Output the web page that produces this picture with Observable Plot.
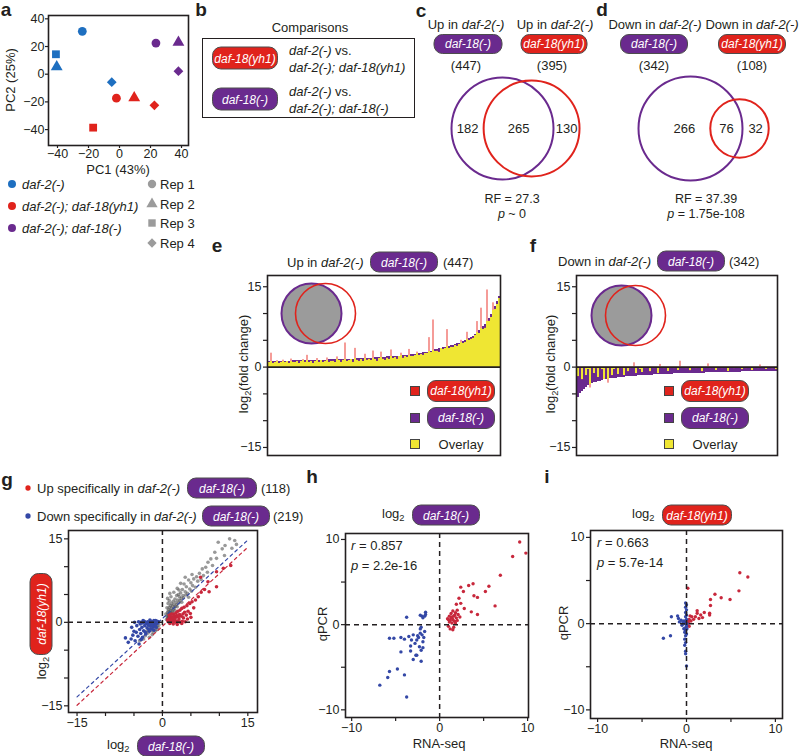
<!DOCTYPE html>
<html><head><meta charset="utf-8">
<script src="https://cdn.jsdelivr.net/npm/d3@7"></script>
<script src="https://cdn.jsdelivr.net/npm/@observablehq/plot@0.6"></script>
<style>
html,body{margin:0;padding:0;background:#fff;}
#fig{position:relative;width:800px;height:756px;overflow:hidden;font-family:"Liberation Sans",Arial,Helvetica,sans-serif;color:#231f20;}
.t{position:absolute;white-space:nowrap;line-height:1;}
.pill{position:absolute;box-sizing:border-box;border:1.6px solid #4d4d4d;border-radius:9px;color:#fff;font-style:italic;font-size:12px;display:flex;align-items:center;justify-content:center;white-space:nowrap;line-height:1;}
sub{font-size:0.72em;vertical-align:-0.35em;line-height:0;}
</style></head><body><div id="fig"></div>
<script>
// ================= DATA =================
// a: PCA
const pcaGroups = ["daf-2(-)", "daf-2(-); daf-18(yh1)", "daf-2(-); daf-18(-)"];
const pcaReps = ["Rep 1", "Rep 2", "Rep 3", "Rep 4"];
const pcaSampleGroup = [0, 0, 0, 0, 1, 1, 1, 1, 2, 2, 2];
const pcaSampleRep   = [0, 1, 2, 3, 0, 1, 2, 3, 0, 1, 3];
const pcaPC1 = [-24, -40.5, -41, -5, -2, 9.5, -17, 22.5, 23.5, 38, 38];
const pcaPC2 = [31, 5.3, 14.4, -5.8, -17.3, -17, -38.6, -22.5, 22.5, 23, 2.2];
const pcaTicks = [-40, -20, 0, 20, 40];

// b: comparisons
const compPills = ["daf-18(yh1)", "daf-18(-)"];
const compLines = [["daf-2(-)", "daf-2(-); daf-18(yh1)"], ["daf-2(-)", "daf-2(-); daf-18(-)"]];

// c, d: Venn diagrams
const vennSets = ["daf-18(-)", "daf-18(yh1)"];
const upTotals = [447, 395], upOverlap = 265, upOnly = [182, 130], upStats = ["RF = 27.3", "<i>p</i> ~ 0"];
const downTotals = [342, 108], downOverlap = 76, downOnly = [266, 32], downStats = ["RF = 37.39", "<i>p</i> = 1.75e-108"];

// e: up in daf-2(-) daf-18(-) (447), log2 fold change, sorted
const upPurple = [1.0,1.0,1.0,1.0,1.0,1.05,1.05,1.05,1.1,1.1,1.1,1.1,1.15,1.15,1.15,1.15,1.2,1.2,1.2,1.2,1.2,1.25,1.25,1.25,1.25,1.3,1.3,1.3,1.3,1.3,1.35,1.35,
 1.35,1.4,1.4,1.4,1.4,1.45,1.45,1.45,1.5,1.5,1.5,1.55,1.55,1.6,1.6,1.6,1.65,1.65,1.7,1.7,1.7,1.75,1.75,1.8,1.8,1.85,1.85,1.9,1.9,1.95,1.95,2.0,2.0,2.05,2.1,
 2.1,2.15,2.2,2.25,2.3,2.35,2.4,2.45,2.5,2.6,2.65,2.7,2.8,2.9,3.0,3.1,3.2,3.3,3.4,3.5,
 3.6,3.7,3.8,3.9,4.0,4.1,4.2,4.4,4.5,4.6,4.8,5.0,5.1,5.3,5.5,
 5.8,6.1,6.4,6.8,7.2,7.6,8.0,8.5,9.1,9.8,
 10.6,11.4,12.2,13.1];
const upRed = [0.8,2.6,0.7,0.9,1.2,0.6,0.9,1.3,0.8,1.0,0.7,1.5,0.9,0.8,1.1,0.6,1.0,1.4,0.9,2.2,0.8,1.1,0.7,1.0,1.6,0.9,1.2,0.8,1.1,1.7,0.9,1.0,
 1.1,0.8,1.9,1.2,0.9,1.3,4.5,1.0,1.2,1.4,0.9,3.5,1.3,1.1,1.4,1.0,2.4,1.3,1.5,1.2,3.0,1.4,1.1,1.6,2.8,1.5,1.3,1.7,1.4,3.2,1.6,1.8,1.5,1.9,2.6,
 1.7,2.0,1.8,3.3,2.0,1.9,2.2,2.8,2.1,2.4,2.2,2.5,2.6,5.5,2.7,8.8,2.9,3.0,2.8,3.4,
 3.2,3.5,7.0,3.4,3.7,3.6,4.0,3.9,4.2,5.0,4.4,4.6,6.5,4.9,5.2,
 5.4,5.9,8.5,6.2,11.0,7.0,7.3,14.4,8.6,9.2,
 12.0,10.8,11.6,12.8];

// f: down in daf-2(-) daf-18(-) (342)
const downPurple = [-5.6,-5.0,-4.5,-4.1,-3.8,
 -3.5,-3.3,-3.1,-2.95,-2.8,
 -2.7,-2.6,-2.5,-2.4,-2.35,-2.3,-2.2,-2.15,-2.1,-2.05,
 -2.0,-1.95,-1.9,-1.87,-1.84,-1.8,-1.77,-1.74,-1.71,-1.68,-1.65,-1.62,-1.6,-1.57,-1.55,
 -1.52,-1.5,-1.48,-1.46,-1.44,-1.42,-1.4,-1.38,-1.36,-1.34,-1.32,-1.3,-1.29,-1.28,-1.26,-1.25,-1.24,-1.22,-1.21,-1.2,
 -1.19,-1.18,-1.16,-1.15,-1.14,-1.13,-1.12,-1.11,-1.1,-1.09,-1.08,-1.07,-1.06,-1.05,-1.04,-1.03,-1.02,-1.01,-1.0,-0.99,-0.98,-0.97,-0.96,-0.95,-0.94,
 -0.93,-0.92,-0.91,-0.9,-0.89,-0.88,-0.87,-0.86,-0.85,-0.84,-0.83,-0.82,-0.81,-0.8,-0.79,-0.78,-0.77,-0.76,-0.75,-0.74];
const downRed = [-1.8,-0.3,-2.4,-0.2,-1.5,-0.4,-3.9,-0.2,-1.2,-0.3,
 -1.9,-0.2,-0.5,-2.3,-0.3,-3.0,-0.2,-1.6,-0.4,-0.2,
 -1.3,-0.2,-0.3,-1.5,-0.1,-0.9,-0.3,-0.2,0.8,-1.2,-0.2,-0.4,-1.0,-0.1,-0.3,
 -0.2,-0.9,-0.1,-0.3,-0.2,-1.1,0.5,-0.2,-0.3,-0.1,-0.8,-0.2,-0.1,-0.3,-0.2,-0.6,1.1,-0.1,-0.2,-0.3,
 -0.1,-0.7,-0.2,-0.1,-0.3,-0.2,-0.1,-0.9,-0.2,-0.1,0.6,-0.3,-0.2,-0.1,-0.6,-0.2,-0.1,-0.3,-0.2,-0.1,-0.8,-0.2,-0.1,-0.3,-0.2,
 -0.1,-0.2,-0.5,-0.1,-0.3,-0.2,-0.1,-0.6,-0.2,-0.1,-0.3,0.4,-0.2,-0.1,-0.4,-0.2,-0.1,-0.3,-0.2,-0.5];
const barTicks = [-15, -10, -5, 0, 5, 10, 15], barTickLabels = [-15, 0, 15];
const barLegend = ["daf-18(yh1)", "daf-18(-)", "Overlay"];

// g: log2 daf-18(-) (x) vs log2 daf-18(yh1) (y)
const gOther = [[9.8,14.4],[11.8,15.0],[12.7,14.7],[10.5,13.2],[9.2,12.6],[8.5,11.4],[8.0,10.8],[9.5,11.5],[10.9,12.0],[7.6,9.9],[8.8,10.2],[7.0,9.6],[6.5,8.8],[7.2,8.4],[6.0,8.2],[5.5,7.8],[6.2,7.4],[5.0,7.1],[4.6,7.6],[5.3,6.6],[4.2,6.4],[3.8,6.9],[4.8,6.0],[3.5,5.9],[4.0,5.5],[3.2,5.3],[2.8,5.0],[4.4,5.2],[3.0,4.6],[2.5,4.8],[3.6,4.8],[2.2,4.2],[2.7,4.0],[3.3,4.3],[1.9,3.8],[2.4,3.6],[1.6,3.4],[2.0,3.2],[2.9,3.5],[1.4,3.0],[1.8,2.9],[2.3,2.9],[1.2,2.7],[1.6,2.5],[2.1,2.6],[1.1,2.3],[1.4,2.1],[1.9,2.3],[1.0,2.0],[1.3,1.8],[1.7,2.0],[0.9,1.7],[1.2,1.5],[1.5,1.6],[1.0,1.3],[1.3,1.2],[0.8,1.1],[1.1,1.0],[0.9,0.8],[1.2,0.9],[1.5,1.3],[2.5,3.2],[3.1,3.9],[3.7,4.4],[4.1,4.9],[2.6,2.8],[3.4,3.6],[1.8,1.7],[2.2,2.1],[4.6,4.5],[5.1,5.6],[5.8,6.3],[1.0,3.4],[0.8,2.6],[1.2,3.9],[0.6,1.5],[0.9,4.3],[1.5,4.6],[2.0,5.4],[2.6,6.1],[3.2,7.0],[1.3,5.2],[4.0,8.1],[0.7,0.5],[1.0,0.6],[1.4,0.8],[6.8,7.7],[7.9,9.0],[5.2,8.6],[2.9,5.8],[11.0,13.8],[12.2,13.3],[13.0,14.0],
 [-1.0,-0.6],[-1.5,-1.0],[-2.0,-1.4],[-1.2,-1.5],[-2.5,-1.9],[-0.8,-0.9],[-1.8,-2.2],[-3.0,-2.4],[-2.2,-0.8],[-1.4,-0.4],[-0.6,-0.5],[-2.8,-1.6],[-1.6,-1.8],[-3.3,-3.0],[-2.3,-2.7],[-0.9,-1.3],[-1.9,-1.1],[-4.0,-3.3]];
const gUp = [[1.0,0.1],[1.2,0.3],[1.4,0.0],[1.6,0.2],[1.8,0.4],[2.0,0.1],[2.2,0.3],[2.4,0.0],[2.6,0.2],[2.9,0.1],[3.2,0.0],[3.5,0.2],[4.0,0.1],[1.1,0.6],[1.3,0.9],[1.5,0.7],[1.7,1.0],[1.9,0.8],[2.1,1.1],[2.3,0.9],[2.5,1.2],[2.8,1.0],[3.0,1.4],[3.3,1.1],[3.6,1.5],[3.9,1.8],[4.2,1.3],[4.5,2.0],[2.0,1.5],[2.4,1.7],[2.7,2.0],[3.1,2.2],[3.4,2.5],[3.8,2.7],[4.3,3.0],[4.8,3.4],[5.2,3.7],[5.8,4.0],[6.3,4.6],[5.5,2.6],[4.9,1.6],[6.8,5.4],[7.4,5.9],[8.2,5.5],[8.0,7.3],[6.7,8.1],[9.5,6.4],[9.5,9.1],[10.7,9.7],[12.0,10.2],[1.3,-0.2],[1.9,-0.3],[2.6,-0.4],[3.4,-0.2],[4.4,0.6],[1.2,1.3],[1.6,1.5],[2.9,0.6],[3.7,0.8],[5.0,0.9],[0.9,0.4],[1.5,0.4],[2.2,0.6]];
const gDown = [[-4.2,0.1],[-3.8,0.0],[-3.5,-0.1],[-3.2,0.2],[-3.0,0.0],[-2.8,-0.2],[-2.6,0.1],[-2.4,-0.1],[-2.2,0.0],[-2.0,0.2],[-1.9,-0.1],[-1.8,0.1],[-1.7,-0.3],[-1.6,0.0],[-1.5,0.3],[-1.4,-0.2],[-1.3,0.1],[-1.2,-0.4],[-1.1,0.0],[-1.0,-0.2],[-0.9,0.2],[-2.5,-0.5],[-3.1,-0.6],[-2.1,-0.7],[-1.6,-0.8],[-3.6,-0.9],[-2.7,-1.0],[-1.9,-1.2],[-4.0,-1.3],[-3.3,-1.5],[-2.3,-1.6],[-4.6,-1.8],[-3.8,-2.0],[-2.9,-2.1],[-5.2,-2.3],[-4.3,-2.5],[-3.5,-2.7],[-5.5,-3.0],[-4.8,-3.3],[-6.0,-3.6],[-1.3,-0.6],[-2.0,-0.3],[-1.1,-0.9],[-3.9,-0.3],[-4.5,-0.6],[-2.4,-1.3],[-1.5,-1.4],[-5.0,-1.6],[-3.0,-1.8],[-1.8,-0.5],[-0.8,-0.1],[-4.9,0.0],[-5.4,-0.9],[-3.4,0.3],[-2.2,0.4],[-1.2,0.3],[-6.5,-2.8],[-4.1,-3.9],[-3.7,-3.1],[-0.7,0.1]];
const gCutUpper = [[-15, -13.4], [14.8, 14.6]];
const gCutLower = [[-15, -14.9], [14.8, 13.3]];
const gTicks = [-15, -10, -5, 0, 5, 10, 15], gTickLabels = [-15, 0, 15];
const gLegend = [["Up specifically in", "daf-2(-)", "daf-18(-)", 118], ["Down specifically in", "daf-2(-)", "daf-18(-)", 219]];

// h: qPCR vs RNA-seq, daf-18(-)
const hUp = [[9.1,9.7],[8.3,8.0],[9.8,8.4],[6.9,5.8],[6.3,2.2],[5.2,3.9],[5.6,4.5],[3.8,4.8],[3.3,4.6],[3.9,3.4],[4.3,3.2],[2.4,4.4],[2.7,3.9],[2.2,3.1],[2.4,2.5],[2.8,1.9],[4.3,1.2],[3.6,1.5],[1.9,2.4],[2.0,1.7],[1.8,1.4],[1.6,1.0],[1.5,0.6],[1.3,0.8],[1.2,0.5],[1.0,0.6],[1.1,0.3],[1.4,0.2],[1.7,0.4],[1.9,0.8],[2.0,0.5],[2.1,1.2],[1.2,-0.5],[1.5,-0.6],[1.6,-0.3],[1.4,0.9],[1.7,1.1],[1.3,1.3],[1.8,0.2],[0.9,0.7],[1.0,-0.2],[1.5,1.6],[2.3,0.9],[1.1,1.0]];
const hDown = [[-1.6,1.45],[-2.0,1.0],[-2.2,1.1],[-1.7,1.0],[-1.9,0.8],[-1.6,1.2],[-3.75,0.86],[-5.7,-1.6],[-5.2,-1.6],[-4.4,-1.5],[-4.0,-1.7],[-3.5,-1.4],[-3.2,-1.8],[-2.2,-1.0],[-2.2,-0.5],[-2.0,-1.2],[-2.4,-1.5],[-2.6,-1.8],[-1.9,-2.0],[-2.8,-2.2],[-2.3,-2.6],[-3.3,-2.5],[-3.0,-1.2],[-1.8,-1.5],[-2.1,-0.3],[-1.7,-0.8],[-2.5,-1.3],[-4.4,-3.2],[-3.3,-3.1],[-3.0,-4.1],[-2.7,-3.6],[-2.1,-4.3],[-2.6,-3.6],[-4.8,-5.2],[-5.7,-5.5],[-5.9,-6.2],[-6.8,-7.1],[-3.75,-8.5],[-4.0,-5.9],[-1.9,-2.7],[-2.1,-3.0]];
const hStats = ["<i>r</i> = 0.857", "<i>p</i> = 2.2e-16"];

// i: qPCR vs RNA-seq, daf-18(yh1)
const iUp = [[6.0,5.9],[6.9,5.4],[5.9,3.8],[4.9,2.8],[3.9,3.0],[3.2,3.4],[2.7,2.8],[2.7,2.1],[2.6,1.2],[2.6,1.0],[2.0,1.3],[1.6,1.0],[1.2,1.5],[1.2,1.2],[1.0,0.8],[0.8,0.5],[1.4,0.6],[0.5,0.3],[0.3,0.5],[0.4,0.9],[0.2,0.1],[0.1,-0.2],[0.15,4.1],[0.3,-0.3],[1.8,0.7],[0.6,0.8],[0.2,0.3]];
const iDown = [[0,-4.9],[-0.1,-3.5],[-0.1,-3.2],[-0.2,-2.5],[-0.1,-2.2],[-0.2,-1.8],[-0.1,-1.4],[0,-1.2],[-0.1,-0.8],[-0.1,-0.5],[0,-0.3],[-0.2,0],[-0.1,0.2],[0,0.5],[-0.1,0.8],[0,1.0],[-0.1,1.3],[0,1.6],[-0.1,1.9],[0,2.2],[-0.1,2.4],[-2.6,-1.7],[-1.8,-1.4],[-1.7,0.8],[-0.9,0.6],[-0.6,0.4],[-0.8,0.2],[-1.0,0.9],[-0.5,-0.2],[-0.4,0.1],[-0.3,-0.6],[-0.2,-1.0],[0.05,-0.6],[-0.3,0.3],[-0.15,0.1],[0.05,0.0]];
const iStats = ["<i>r</i> = 0.663", "<i>p</i> = 5.7e-14"];
const qTicks = [-10, -5, 0, 5, 10], qTickLabels = [-10, 0, 10];

// ================= DRAWING =================
const fig = document.getElementById("fig");
const INK = "#231f20";
const FONT = '"Liberation Sans", Arial, Helvetica, sans-serif';
const COL = {red: "#e0231c", purple: "#6a2a8e", blue: "#1e6fc0", yellow: "#efe633", barRed: "#ee5b55",
  ptRed: "#c8283c", ptBlue: "#3448a6", rep: "#9b9b9b"};
const setColor = {"daf-18(-)": COL.purple, "daf-18(yh1)": COL.red};
const SVGNS = "http://www.w3.org/2000/svg";

function txt(html, x, y, o = {}) {
  const d = document.createElement("div");
  d.className = "t";
  d.innerHTML = html;
  const tx = o.anchor === "middle" ? "-50%" : o.anchor === "end" ? "-100%" : "0";
  d.style.left = x + "px"; d.style.top = y + "px";
  d.style.fontSize = (o.size || 13) + "px";
  if (o.bold) d.style.fontWeight = "bold";
  d.style.transform = `translate(${tx},-50%)` + (o.rotate ? ` rotate(${o.rotate}deg)` : "");
  fig.appendChild(d); return d;
}
function pill(label, cx, cy, w, h = 21, rotate = 0) {
  const d = document.createElement("div");
  d.className = "pill"; d.textContent = label;
  d.style.cssText = `left:${cx}px;top:${cy}px;width:${w}px;height:${h}px;background:${setColor[label]};transform:translate(-50%,-50%)${rotate ? ` rotate(${rotate}deg)` : ""};`;
  fig.appendChild(d);
}
function sym(type, color, cx, cy, size) {
  const s = document.createElementNS(SVGNS, "svg");
  s.setAttribute("width", 16); s.setAttribute("height", 16);
  s.style.cssText = `position:absolute;left:${cx - 8}px;top:${cy - 8}px;overflow:visible`;
  const p = document.createElementNS(SVGNS, "path");
  p.setAttribute("d", d3.symbol(type, size)());
  p.setAttribute("transform", "translate(8,8)");
  p.setAttribute("fill", color);
  s.appendChild(p); fig.appendChild(s);
}
function frameBox(l, t, r, b, m = [10, 10, 28, 45]) {
  return {left: l - m[3], top: t - m[0], opts: {width: r - l + m[1] + m[3], height: b - t + m[0] + m[2],
    marginTop: m[0], marginRight: m[1], marginBottom: m[2], marginLeft: m[3]}};
}
function put(box, spec) {
  const svg = Plot.plot({...box.opts, ...spec,
    style: {fontFamily: FONT, fontSize: "12.5px", color: INK, background: "transparent", overflow: "visible"}});
  svg.style.position = "absolute"; svg.style.left = box.left + "px"; svg.style.top = box.top + "px";
  svg.style.maxWidth = "none";
  fig.appendChild(svg); return svg;
}
const fmt = d3.format("d");
function axisMarks(xTicks, xLabels, yTicks, yLabels, tickSize = 4, pad = 2) {
  const f = labels => d => labels.includes(d) ? fmt(d) : "";
  const m = [];
  if (xTicks) m.push(Plot.axisX({ticks: xTicks, tickFormat: f(xLabels), tickSize, tickPadding: pad, label: null, fontSize: 12.5, stroke: INK, strokeWidth: 1.2}));
  if (yTicks) m.push(Plot.axisY({ticks: yTicks, tickFormat: f(yLabels), tickSize, tickPadding: pad, label: null, fontSize: 12.5, stroke: INK, strokeWidth: 1.2}));
  return m;
}
const frame = () => Plot.frame({stroke: INK, strokeWidth: 1.6});
const dashed = {stroke: INK, strokeWidth: 1.5, strokeDasharray: "5,4"};
const xy = {x: d => d[0], y: d => d[1]};

// ---- panel letters
[["a", 6, 9], ["b", 201, 9], ["c", 421, 10], ["d", 602, 9], ["e", 217, 245], ["f", 533, 245], ["g", 7, 479], ["h", 312, 476], ["i", 547, 476]]
  .forEach(([l, x, y]) => txt(l, x, y, {anchor: "middle", bold: true, size: 19}));

// ---- a: PCA
const pcaData = pcaPC1.map((x, i) => ({x, y: pcaPC2[i], group: pcaGroups[pcaSampleGroup[i]], rep: pcaReps[pcaSampleRep[i]]}));
put(frameBox(48, 15, 188, 145, [10, 12, 22, 48]), {
  x: {domain: [-45.8, 44.5]}, y: {domain: [-51.5, 42.4]},
  color: {domain: pcaGroups, range: [COL.blue, COL.red, COL.purple]},
  symbol: {domain: pcaReps, range: ["circle", "triangle", "square", "diamond2"]},
  marks: [...axisMarks(pcaTicks, pcaTicks, pcaTicks, pcaTicks, 3, 1),
    Plot.dot(pcaData, {x: "x", y: "y", fill: "group", symbol: "rep", r: 4.4}),
    frame()]
});
txt("PC1 (43%)", 118, 168.5, {anchor: "middle"});
txt("PC2 (25%)", 10, 80, {anchor: "middle", rotate: -90});
pcaGroups.forEach((g, i) => {
  sym(d3.symbolCircle, [COL.blue, COL.red, COL.purple][i], 12, 184 + 22 * i, 50);
  txt(`<i>${g}</i>`, 22, 184 + 22 * i);
});
const d3Syms = [d3.symbolCircle, d3.symbolTriangle, d3.symbolSquare, d3.symbolDiamond2];
pcaReps.forEach((r, i) => {
  sym(d3Syms[i], COL.rep, 152, 184 + 19.5 * i, 55);
  txt(r, 160, 184 + 19.5 * i);
});

// ---- b: comparisons
txt("Comparisons", 310, 27, {anchor: "middle"});
{
  const bx = document.createElement("div");
  bx.style.cssText = "position:absolute;left:202px;top:38px;width:213px;height:80px;box-sizing:border-box;border:1.5px solid #231f20;";
  fig.appendChild(bx);
}
compPills.forEach((p, i) => {
  const cy = [58, 99][i];
  pill(p, 245, cy, 66, 23);
  txt(`<i>${compLines[i][0]}</i>`, 289, cy - 8);
  txt("vs.", 335, cy - 8);
  txt(`<i>${compLines[i][1]}</i>`, 289, cy + 9);
});

// ---- c, d: Venn
function lens(r1, r2, d) {
  if (d >= r1 + r2) return 0;
  if (d <= Math.abs(r1 - r2)) return Math.PI * Math.min(r1, r2) ** 2;
  const a = r1 * r1 * Math.acos((d * d + r1 * r1 - r2 * r2) / (2 * d * r1));
  const b = r2 * r2 * Math.acos((d * d + r2 * r2 - r1 * r1) / (2 * d * r2));
  const c = 0.5 * Math.sqrt((-d + r1 + r2) * (d + r1 - r2) * (d - r1 + r2) * (d + r1 + r2));
  return a + b - c;
}
function centerDist(r1, r2, area) {
  let lo = Math.abs(r1 - r2), hi = r1 + r2;
  for (let k = 0; k < 60; k++) { const m = (lo + hi) / 2; if (lens(r1, r2, m) > area) lo = m; else hi = m; }
  return (lo + hi) / 2;
}
function venn(totals, overlapN, only, L) {
  const [rA, rB] = totals.map(n => Math.sqrt(n / Math.PI));
  const k = L.R / rA;
  const dist = L.gap ? L.gap / k : centerDist(rA, rB, overlapN);
  const circles = [{set: vennSets[0], x: 0, r: rA}, {set: vennSets[1], x: dist, r: rB}];
  const labels = [{x: (-rA + dist - rB) / 2 + (L.shiftA || 0) / k, t: only[0]}, {x: (dist - rB + rA) / 2, t: overlapN}, {x: (rA + dist + rB) / 2, t: only[1]}];
  put({left: L.left, top: L.top, opts: {width: L.width, height: L.height, margin: 0}}, {
    x: {domain: [(L.left - L.cx) / k, (L.left + L.width - L.cx) / k], axis: null},
    y: {domain: [-(L.top + L.height - L.cy) / k, (L.cy - L.top) / k], axis: null},
    r: {type: "linear", domain: [0, 1], range: [0, k]},
    color: {domain: vennSets, range: [COL.purple, COL.red]},
    marks: [Plot.dot(circles, {x: "x", y: () => 0, r: "r", stroke: "set", strokeWidth: 2, fill: "none"}),
      Plot.text(labels, {x: "x", y: () => 0, text: "t", fontSize: 13, fill: INK})]
  });
}
// headers c
txt("Up in <i>daf-2(-)</i>", 466, 24, {anchor: "middle"});
pill("daf-18(-)", 468, 43.5, 69, 20);
txt(`(${upTotals[0]})`, 466, 65, {anchor: "middle"});
txt("Up in <i>daf-2(-)</i>", 555, 24, {anchor: "middle"});
pill("daf-18(yh1)", 554, 43.5, 67, 20);
txt(`(${upTotals[1]})`, 552, 65, {anchor: "middle"});
venn(upTotals, upOverlap, upOnly, {cx: 502, cy: 128, R: 51, left: 440, top: 70, width: 160, height: 120});
txt(upStats[0], 512, 199, {anchor: "middle", size: 12.5});
txt(upStats[1], 512, 214, {anchor: "middle", size: 12.5});
// headers d
txt("Down in <i>daf-2(-)</i>", 655, 24, {anchor: "middle"});
pill("daf-18(-)", 654, 43.5, 68, 20);
txt(`(${downTotals[0]})`, 654, 65, {anchor: "middle"});
txt("Down in <i>daf-2(-)</i>", 752, 24, {anchor: "middle"});
pill("daf-18(yh1)", 752, 43.5, 68, 20);
txt(`(${downTotals[1]})`, 752, 65, {anchor: "middle"});
venn(downTotals, downOverlap, downOnly, {cx: 690, cy: 128, R: 52, gap: 49, shiftA: 10, left: 620, top: 70, width: 178, height: 120});
txt(downStats[0], 706, 199, {anchor: "middle", size: 12.5});
txt(downStats[1], 706, 214, {anchor: "middle", size: 12.5});

// ---- e, f: bar panels
function overlap(p, r) { return p > 0 && r > 0 ? Math.min(p, r) : p < 0 && r < 0 ? Math.max(p, r) : 0; }
function barPanel(purple, red, l, r) {
  const rows = purple.map((p, i) => ({i, p, r: red[i], o: overlap(p, red[i])}));
  put(frameBox(l, 275, r, 455, [5, 5, 10, 35]), {
    x: {type: "band", domain: rows.map(d => d.i), padding: 0, axis: null},
    y: {domain: [-16.5, 17.1]},
    marks: [...axisMarks(null, null, barTicks, barTickLabels),
      Plot.barY(rows, {x: "i", y: "p", fill: COL.purple, shapeRendering: "crispEdges"}),
      Plot.barY(rows, {x: "i", y: "r", fill: COL.barRed, insetLeft: 0.4, insetRight: 0.4}),
      Plot.barY(rows, {x: "i", y: "o", fill: COL.yellow, shapeRendering: "crispEdges"}),
      Plot.ruleY([0], {stroke: INK, strokeWidth: 1.6}),
      frame()]
  });
}
function inset(left, top, highlight) {
  const other = vennSets.find(s => s !== highlight);
  put({left, top, opts: {width: 100, height: 70, margin: 0}}, {
    x: {type: "point", domain: vennSets, range: [34, 62.5], axis: null},
    marks: [Plot.dot([highlight], {x: d => d, r: 30, fill: "#9b9b9b", stroke: COL.purple, strokeWidth: 2}),
      Plot.dot([other], {x: d => d, r: 30, fill: "none", stroke: COL.red, strokeWidth: 1.6})]
  });
}
function barLegendAt(sqx, pcx) {
  barLegend.forEach((lab, i) => {
    const cy = [391, 418, 444][i];
    const sq = document.createElement("div");
    const c = [COL.red, COL.purple, COL.yellow][i];
    sq.style.cssText = `position:absolute;left:${sqx - 5}px;top:${cy - 5}px;width:10px;height:10px;box-sizing:border-box;background:${c};border:1px solid #444;`;
    fig.appendChild(sq);
    if (i < 2) pill(lab, pcx, cy, 68, 22); else txt(lab, pcx, cy, {anchor: "middle"});
  });
}
// e
txt("Up in <i>daf-2(-)</i>", 287, 262);
pill("daf-18(-)", 404, 262, 68, 21);
txt(`(${upTotals[0]})`, 443, 262);
barPanel(upPurple, upRed, 267, 500);
inset(270, 278, "daf-18(-)");
txt("log<sub>2</sub>(fold change)", 243, 364, {anchor: "middle", rotate: -90});
barLegendAt(415, 461);
// f
txt("Down in <i>daf-2(-)</i>", 558, 261);
pill("daf-18(-)", 691, 261, 68, 21);
txt(`(${downTotals[0]})`, 729, 261);
barPanel(downPurple, downRed, 576, 777);
inset(580, 280, "daf-18(-)");
txt("log<sub>2</sub>(fold change)", 550, 364, {anchor: "middle", rotate: -90});
barLegendAt(669, 715);

// ---- g
gLegend.forEach(([pre, geno, set, n], i) => {
  const cy = [488, 516][i];
  sym(d3.symbolCircle, i === 0 ? COL.red : COL.ptBlue, 28, cy, 22);
  txt(`${pre} <i>${geno}</i>`, 37, cy);
  pill(set, [222, 236][i], cy, [70, 68][i], 21);
  txt(`(${n})`, [261, 273][i], cy);
});
put(frameBox(68, 530, 257, 712, [10, 8, 25, 40]), {
  x: {domain: [-16.5, 16.7]}, y: {domain: [-16.2, 16.5]},
  marks: [...axisMarks(gTicks, gTickLabels, gTicks, gTickLabels),
    Plot.dot(gOther, {...xy, r: 1.8, fill: "#555", fillOpacity: 0.6}),
    Plot.dot(gUp, {...xy, r: 1.8, fill: COL.ptRed}),
    Plot.dot(gDown, {...xy, r: 1.8, fill: COL.ptBlue}),
    Plot.line(gCutUpper, {...xy, stroke: COL.ptBlue, strokeWidth: 1.2, strokeDasharray: "3,3.5"}),
    Plot.line(gCutLower, {...xy, stroke: COL.ptRed, strokeWidth: 1.2, strokeDasharray: "3,3.5"}),
    Plot.ruleX([0], dashed), Plot.ruleY([0], dashed),
    frame()]
});
txt("log<sub>2</sub>", 107, 744);
pill("daf-18(-)", 171, 746, 68, 21);
pill("daf-18(yh1)", 41, 614, 82, 23, -90);
txt("log<sub>2</sub>", 41, 668, {anchor: "middle", rotate: -90});

// ---- h, i
function qPanel(up, down, stats, l, t, r, b, xd, yd, sx, sy) {
  put(frameBox(l, t, r, b, [8, 10, 25, 40]), {
    x: {domain: xd}, y: {domain: yd},
    marks: [...axisMarks(qTicks, qTickLabels, qTicks, qTickLabels),
      Plot.dot(up, {...xy, r: 1.7, fill: COL.ptRed}),
      Plot.dot(down, {...xy, r: 1.7, fill: COL.ptBlue}),
      Plot.ruleX([0], dashed), Plot.ruleY([0], dashed),
      frame()]
  });
  txt(stats[0], sx, sy);
  txt(stats[1], sx, sy + 19.5);
}
qPanel(hUp, hDown, hStats, 345, 533, 528, 717, [-10.7, 10.1], [-10.9, 10.7], 351, 545);
txt("log<sub>2</sub>", 382, 513);
pill("daf-18(-)", 446, 515, 68, 21);
txt("qPCR", 322, 624, {anchor: "middle", rotate: -90});
txt("RNA-seq", 439, 743, {anchor: "middle"});

qPanel(iUp, iDown, iStats, 590, 530, 782, 718, [-10.8, 10.8], [-11.0, 10.8], 597, 542);
txt("log<sub>2</sub>", 632, 513);
pill("daf-18(yh1)", 697, 515, 70, 21);
txt("qPCR", 563, 623, {anchor: "middle", rotate: -90});
txt("RNA-seq", 686, 743, {anchor: "middle"});
</script></body></html>
